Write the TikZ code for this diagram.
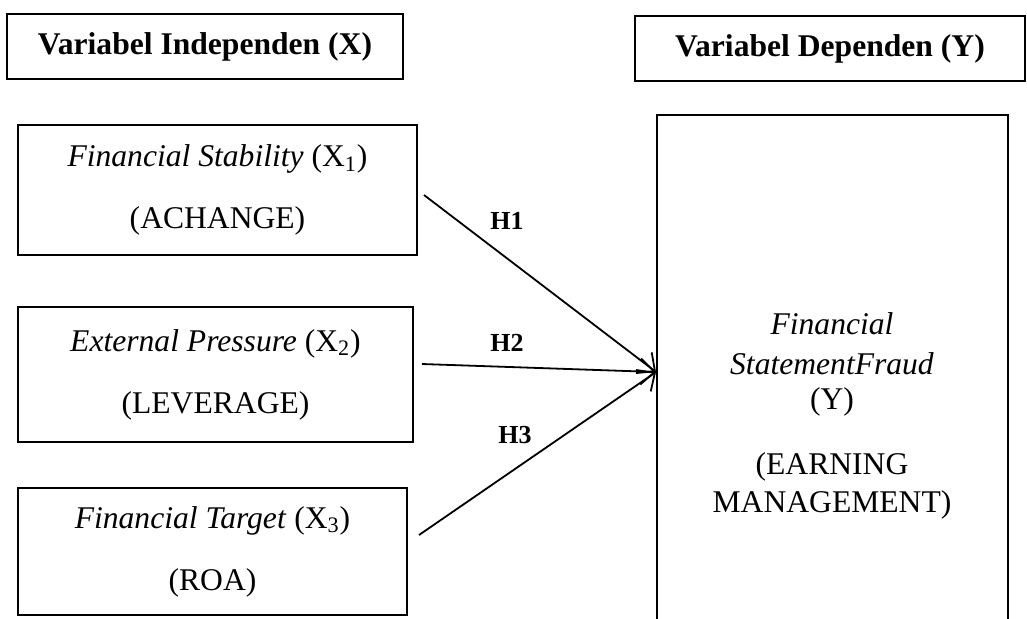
\documentclass[tikz,border=0pt]{standalone}
\usepackage{fontspec}
\setmainfont{Liberation Serif}
\usetikzlibrary{arrows.meta}

\tikzset{
  hdrbox/.style={draw, line width=1pt, minimum height=32.5pt,
    font=\fontsize{15.8}{19}\selectfont\bfseries},
  varbox/.style={draw, line width=1pt, align=center,
    font=\fontsize{15.8}{19}\selectfont},
  hyp/.style={font=\fontsize{13}{15}\selectfont\bfseries},
  link/.style={line width=0.9pt, -{Straight Barb[length=7pt,width=13pt,line width=0.9pt]}}
}

\begin{document}
\begin{tikzpicture}[x=0.5pt, y=-0.5pt]
        \clip (0,0) rectangle (1027,618);
        % headers
        \node[hdrbox, minimum width=198pt] (hdrx) at (205,46.5) {Variabel Independen (X)};
        \node[hdrbox, minimum width=195pt] (hdry) at (830,48.5) {Variabel Dependen (Y)};
        % independent variables
        \node[varbox, minimum width=199.5pt, minimum height=65pt] (x1) at (217.5,190)
            {\textit{Financial Stability} (X\textsubscript{1})\\[12pt](ACHANGE)};
        \node[varbox, minimum width=197.5pt, minimum height=67.5pt] (x2) at (215.5,374.5)
            {\textit{External Pressure} (X\textsubscript{2})\\[12pt](LEVERAGE)};
        \node[varbox, minimum width=194.5pt, minimum height=63.5pt] (x3) at (212.5,551.5)
            {\textit{Financial Target} (X\textsubscript{3})\\[12pt](ROA)};
        % dependent variable, open at the bottom
        \node[draw, line width=1pt, minimum width=175.5pt, minimum height=265pt] (fraud) at (832.5,380) {};
        \node[varbox, draw=none] (fraudtext) at (832,416)
            {\textit{Financial}\\[1pt]\textit{StatementFraud}\\[-1.5pt](Y)\\[13.5pt](EARNING\\MANAGEMENT)};
        \coordinate (tip) at ([yshift=4pt]fraud.west);
        % hypotheses
        \draw[link] ([xshift=3pt,yshift=-2.5pt]x1.east) -- (tip);
        \draw[link] ([xshift=4pt,yshift=5.25pt]x2.east) -- (tip);
        \draw[link] ([xshift=5.5pt,yshift=8.25pt]x3.east) -- (tip);
        \node[hyp] (h1) at (507,221) {H1};
        \node[hyp] (h2) at (507,343) {H2};
        \node[hyp] (h3) at (515,435) {H3};
    \end{tikzpicture}
\end{document}
